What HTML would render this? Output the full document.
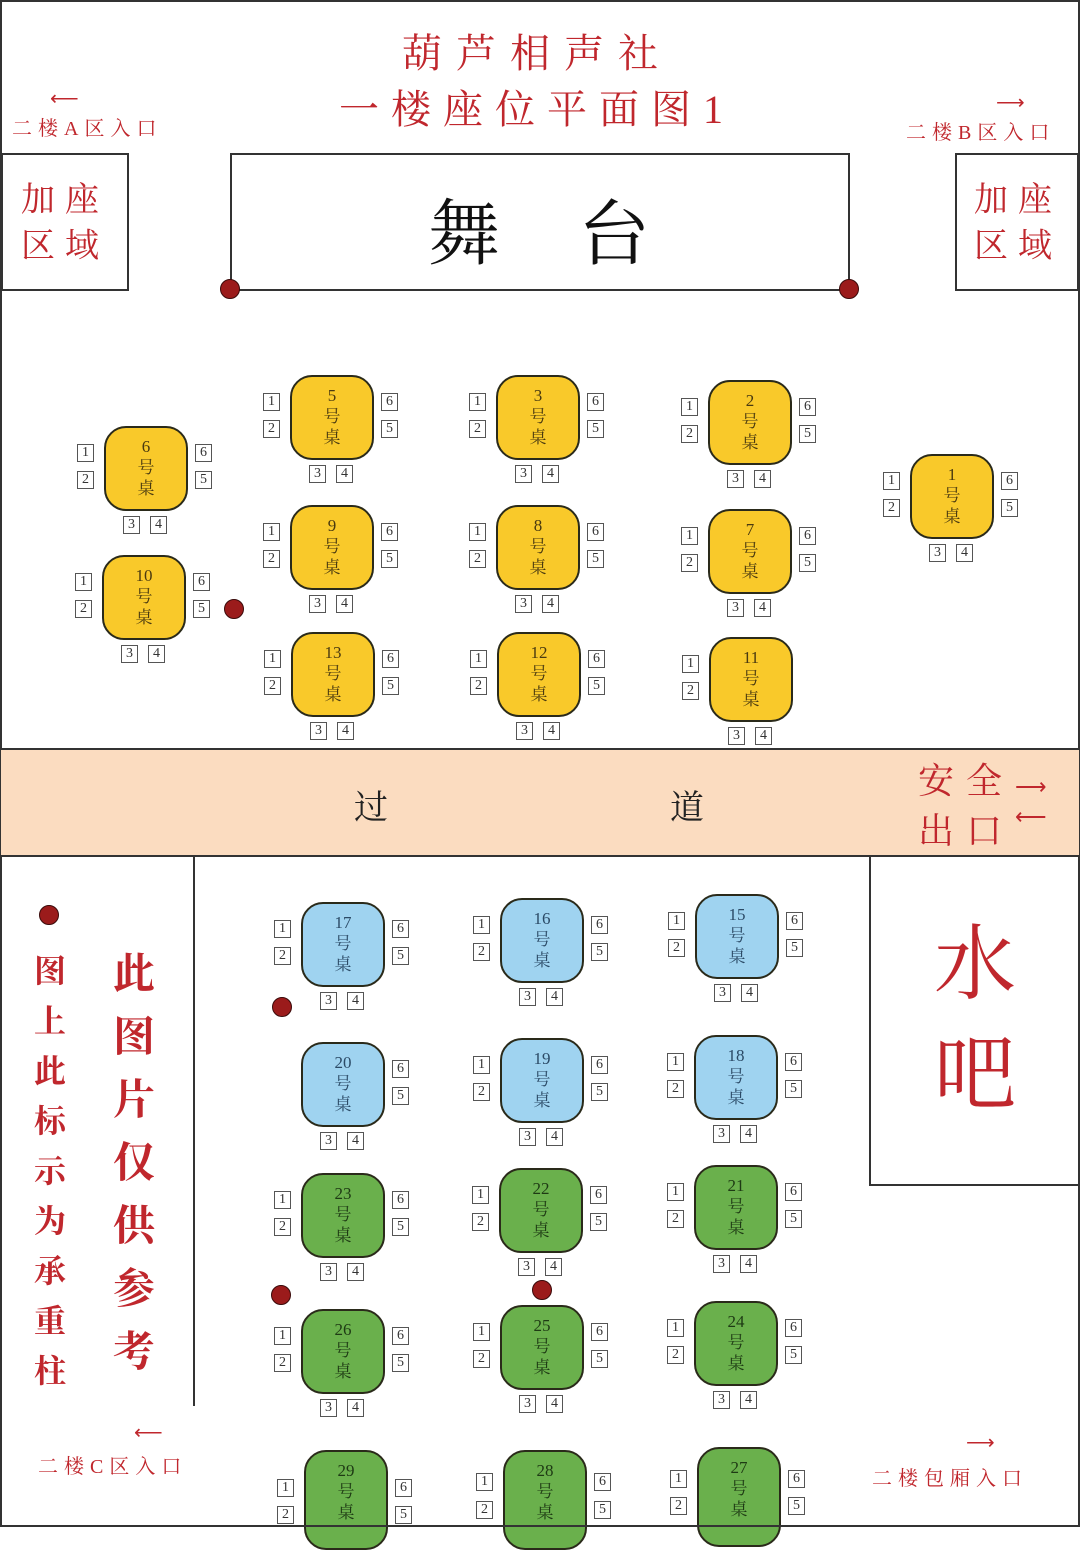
<!DOCTYPE html>
<html><head><meta charset="utf-8"><style>
*{margin:0;padding:0;box-sizing:border-box}
body{width:1080px;height:1527px;overflow:hidden;background:#fff;position:relative;font-family:"Liberation Serif","Noto Serif CJK SC",serif}
.a{position:absolute}
.r{color:#c0272d}
.t{position:absolute;width:84px;height:85px;border:2px solid #2a2a1a;border-radius:22px;text-align:center;font-size:17px;line-height:21px;padding-top:8px;color:#4a3a10}
.y{background:#f9c92a}.b{background:#9fd3f0;color:#2b4a66}.g{background:#6ab04c;color:#1e3a14}
.s{position:absolute;width:17px;height:18px;border:1px solid #555;background:#fff;font-size:14px;line-height:16px;text-align:center;color:#333}
.s1{left:-29px;top:16px}.s2{left:-29px;top:43px}.s6{left:89px;top:16px}.s5{left:89px;top:43px}.s3{left:17px;top:88px}.s4{left:44px;top:88px}
.p{position:absolute;width:20px;height:20px;border-radius:50%;background:#9b1b1b;border:1px solid #3a0a0a}
.c{position:absolute;text-align:center}
</style></head><body>
<div class="a" style="left:0;top:0;width:1080px;height:1527px;border:2px solid #333"></div>

<div class="c r" style="left:300px;top:22px;width:474px;font-size:40px;letter-spacing:14px">葫芦相声社</div>
<div class="c r" style="left:300px;top:78px;width:474px;font-size:40px;letter-spacing:12px">一楼座位平面图1</div>

<div class="a r" style="left:50px;top:86px;font-size:20px">⟵</div>
<div class="a r" style="left:12px;top:112px;font-size:20px;letter-spacing:6px">二楼A区入口</div>
<div class="a r" style="left:996px;top:90px;font-size:20px">⟶</div>
<div class="a r" style="left:906px;top:116px;font-size:20px;letter-spacing:6px">二楼B区入口</div>

<div class="a" style="left:1px;top:153px;width:128px;height:138px;border:2px solid #333"></div>
<div class="c r" style="left:10px;top:178px;width:110px;font-size:34px;line-height:46px;letter-spacing:10px">加座<br>区域</div>
<div class="a" style="left:955px;top:153px;width:124px;height:138px;border:2px solid #333"></div>
<div class="c r" style="left:962px;top:178px;width:112px;font-size:34px;line-height:46px;letter-spacing:10px">加座<br>区域</div>

<div class="a" style="left:230px;top:153px;width:620px;height:138px;border:2px solid #333"></div>
<div class="a" style="left:428px;top:176px;font-size:72px;color:#111">舞</div>
<div class="a" style="left:578px;top:176px;font-size:72px;color:#111">台</div>

<div class="p" style="left:220px;top:279px"></div>
<div class="p" style="left:839px;top:279px"></div>
<div class="p" style="left:224px;top:599px"></div>
<div class="p" style="left:272px;top:997px"></div>
<div class="p" style="left:271px;top:1285px"></div>
<div class="p" style="left:532px;top:1280px"></div>
<div class="p" style="left:39px;top:905px"></div>

<div class="a" style="left:1px;top:748px;width:1078px;height:109px;background:#fbdcc0;border-top:2px solid #333;border-bottom:2px solid #333"></div>
<div class="a" style="left:354px;top:780px;font-size:34px;color:#222">过</div>
<div class="a" style="left:670px;top:780px;font-size:34px;color:#222">道</div>
<div class="a r" style="left:918px;top:756px;font-size:36px;letter-spacing:12px;line-height:50px">安全<br>出口</div>
<div class="a r" style="left:1015px;top:774px;font-size:22px">⟶</div>
<div class="a r" style="left:1015px;top:804px;font-size:22px">⟵</div>

<div class="a" style="left:193px;top:856px;width:2px;height:550px;background:#333"></div>
<div class="a" style="left:869px;top:856px;width:211px;height:330px;border:2px solid #333;border-right:none;border-top:none"></div>
<div class="c r" style="left:900px;top:910px;width:150px;font-size:82px;line-height:110px">水<br>吧</div>

<div class="c r" style="left:30px;top:946px;width:40px;font-size:32px;line-height:50px;font-weight:bold">图<br>上<br>此<br>标<br>示<br>为<br>承<br>重<br>柱</div>
<div class="c r" style="left:108px;top:944px;width:52px;font-size:42px;line-height:63px;font-weight:bold">此<br>图<br>片<br>仅<br>供<br>参<br>考</div>

<div class="a r" style="left:134px;top:1420px;font-size:20px">⟵</div>
<div class="a r" style="left:38px;top:1450px;font-size:20px;letter-spacing:6px">二楼C区入口</div>
<div class="a r" style="left:966px;top:1430px;font-size:20px">⟶</div>
<div class="a r" style="left:872px;top:1462px;font-size:20px;letter-spacing:6px">二楼包厢入口</div>

<div class="t y" style="left:104px;top:426px">6<br>号<br>桌<div class="s s1">1</div><div class="s s2">2</div><div class="s s6">6</div><div class="s s5">5</div><div class="s s3">3</div><div class="s s4">4</div></div>
<div class="t y" style="left:102px;top:555px">10<br>号<br>桌<div class="s s1">1</div><div class="s s2">2</div><div class="s s6">6</div><div class="s s5">5</div><div class="s s3">3</div><div class="s s4">4</div></div>
<div class="t y" style="left:290px;top:375px">5<br>号<br>桌<div class="s s1">1</div><div class="s s2">2</div><div class="s s6">6</div><div class="s s5">5</div><div class="s s3">3</div><div class="s s4">4</div></div>
<div class="t y" style="left:290px;top:505px">9<br>号<br>桌<div class="s s1">1</div><div class="s s2">2</div><div class="s s6">6</div><div class="s s5">5</div><div class="s s3">3</div><div class="s s4">4</div></div>
<div class="t y" style="left:291px;top:632px">13<br>号<br>桌<div class="s s1">1</div><div class="s s2">2</div><div class="s s6">6</div><div class="s s5">5</div><div class="s s3">3</div><div class="s s4">4</div></div>
<div class="t y" style="left:496px;top:375px">3<br>号<br>桌<div class="s s1">1</div><div class="s s2">2</div><div class="s s6">6</div><div class="s s5">5</div><div class="s s3">3</div><div class="s s4">4</div></div>
<div class="t y" style="left:496px;top:505px">8<br>号<br>桌<div class="s s1">1</div><div class="s s2">2</div><div class="s s6">6</div><div class="s s5">5</div><div class="s s3">3</div><div class="s s4">4</div></div>
<div class="t y" style="left:497px;top:632px">12<br>号<br>桌<div class="s s1">1</div><div class="s s2">2</div><div class="s s6">6</div><div class="s s5">5</div><div class="s s3">3</div><div class="s s4">4</div></div>
<div class="t y" style="left:708px;top:380px">2<br>号<br>桌<div class="s s1">1</div><div class="s s2">2</div><div class="s s6">6</div><div class="s s5">5</div><div class="s s3">3</div><div class="s s4">4</div></div>
<div class="t y" style="left:708px;top:509px">7<br>号<br>桌<div class="s s1">1</div><div class="s s2">2</div><div class="s s6">6</div><div class="s s5">5</div><div class="s s3">3</div><div class="s s4">4</div></div>
<div class="t y" style="left:709px;top:637px">11<br>号<br>桌<div class="s s1">1</div><div class="s s2">2</div><div class="s s3">3</div><div class="s s4">4</div></div>
<div class="t y" style="left:910px;top:454px">1<br>号<br>桌<div class="s s1">1</div><div class="s s2">2</div><div class="s s6">6</div><div class="s s5">5</div><div class="s s3">3</div><div class="s s4">4</div></div>

<div class="t b" style="left:301px;top:902px">17<br>号<br>桌<div class="s s1">1</div><div class="s s2">2</div><div class="s s6">6</div><div class="s s5">5</div><div class="s s3">3</div><div class="s s4">4</div></div>
<div class="t b" style="left:500px;top:898px">16<br>号<br>桌<div class="s s1">1</div><div class="s s2">2</div><div class="s s6">6</div><div class="s s5">5</div><div class="s s3">3</div><div class="s s4">4</div></div>
<div class="t b" style="left:695px;top:894px">15<br>号<br>桌<div class="s s1">1</div><div class="s s2">2</div><div class="s s6">6</div><div class="s s5">5</div><div class="s s3">3</div><div class="s s4">4</div></div>
<div class="t b" style="left:301px;top:1042px">20<br>号<br>桌<div class="s s6">6</div><div class="s s5">5</div><div class="s s3">3</div><div class="s s4">4</div></div>
<div class="t b" style="left:500px;top:1038px">19<br>号<br>桌<div class="s s1">1</div><div class="s s2">2</div><div class="s s6">6</div><div class="s s5">5</div><div class="s s3">3</div><div class="s s4">4</div></div>
<div class="t b" style="left:694px;top:1035px">18<br>号<br>桌<div class="s s1">1</div><div class="s s2">2</div><div class="s s6">6</div><div class="s s5">5</div><div class="s s3">3</div><div class="s s4">4</div></div>

<div class="t g" style="left:301px;top:1173px">23<br>号<br>桌<div class="s s1">1</div><div class="s s2">2</div><div class="s s6">6</div><div class="s s5">5</div><div class="s s3">3</div><div class="s s4">4</div></div>
<div class="t g" style="left:499px;top:1168px">22<br>号<br>桌<div class="s s1">1</div><div class="s s2">2</div><div class="s s6">6</div><div class="s s5">5</div><div class="s s3">3</div><div class="s s4">4</div></div>
<div class="t g" style="left:694px;top:1165px">21<br>号<br>桌<div class="s s1">1</div><div class="s s2">2</div><div class="s s6">6</div><div class="s s5">5</div><div class="s s3">3</div><div class="s s4">4</div></div>
<div class="t g" style="left:301px;top:1309px">26<br>号<br>桌<div class="s s1">1</div><div class="s s2">2</div><div class="s s6">6</div><div class="s s5">5</div><div class="s s3">3</div><div class="s s4">4</div></div>
<div class="t g" style="left:500px;top:1305px">25<br>号<br>桌<div class="s s1">1</div><div class="s s2">2</div><div class="s s6">6</div><div class="s s5">5</div><div class="s s3">3</div><div class="s s4">4</div></div>
<div class="t g" style="left:694px;top:1301px">24<br>号<br>桌<div class="s s1">1</div><div class="s s2">2</div><div class="s s6">6</div><div class="s s5">5</div><div class="s s3">3</div><div class="s s4">4</div></div>
<div class="t g" style="left:304px;top:1450px;height:100px">29<br>号<br>桌<div class="s s1" style="top:27px">1</div><div class="s s2" style="top:54px">2</div><div class="s s6" style="top:27px">6</div><div class="s s5" style="top:54px">5</div></div>
<div class="t g" style="left:503px;top:1450px;height:100px">28<br>号<br>桌<div class="s s1" style="top:21px">1</div><div class="s s2" style="top:49px">2</div><div class="s s6" style="top:21px">6</div><div class="s s5" style="top:49px">5</div></div>
<div class="t g" style="left:697px;top:1447px;height:100px">27<br>号<br>桌<div class="s s1" style="top:21px">1</div><div class="s s2" style="top:48px">2</div><div class="s s6" style="top:21px">6</div><div class="s s5" style="top:48px">5</div></div>
<div class="a" style="left:0;top:1525px;width:1080px;height:2px;background:#333"></div>
</body></html>
